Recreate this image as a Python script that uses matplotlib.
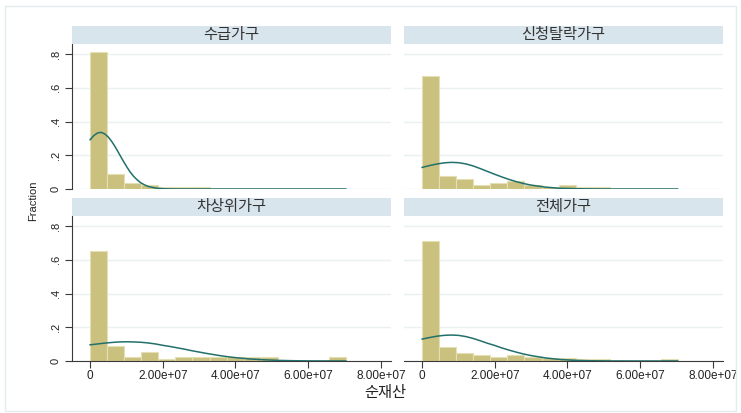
import numpy as np
import matplotlib
matplotlib.use('Agg')
import matplotlib.pyplot as plt
from matplotlib.patches import Rectangle

plt.rcParams['font.family'] = ['Liberation Sans', 'Noto Sans CJK KR', 'DejaVu Sans']

# --- data ---
groups = ['수급가구', '신청탈락가구', '차상위가구', '전체가구']
bin_width = 0.4693   # x 1e7
n_bins = 15

frac_sugup = [0.815, 0.087, 0.037, 0.025, 0.012, 0.012, 0.012, 0, 0, 0, 0, 0, 0, 0, 0]
frac_talrak = [0.670, 0.075, 0.062, 0.026, 0.035, 0.050, 0.024, 0.012, 0.024, 0.011, 0.011, 0, 0, 0, 0]
frac_chasang = [0.650, 0.089, 0.022, 0.052, 0.010, 0.022, 0.022, 0.022, 0.022, 0.022, 0.022, 0, 0, 0, 0.022]
frac_total = [0.712, 0.082, 0.045, 0.036, 0.022, 0.034, 0.024, 0.015, 0.017, 0.012, 0.012, 0, 0, 0, 0.009]

# normal overlay, x in 1e7
curve_x_sugup = [0, 0.1, 0.2, 0.3, 0.4, 0.5, 0.6, 0.7, 0.8, 0.9, 1.0, 1.1, 1.2, 1.3, 1.4, 1.5, 1.6, 1.8, 2.0, 2.2, 2.6, 7.04]
curve_y_sugup = [0.292, 0.317, 0.332, 0.336, 0.327, 0.308, 0.280, 0.246, 0.208, 0.170, 0.134, 0.101, 0.074, 0.053, 0.036, 0.024, 0.015, 0.0055, 0.0017, 0.0004, 0, 0]

curve_x_talrak = [0, 0.2, 0.4, 0.6, 0.8, 1.0, 1.2, 1.4, 1.6, 1.8, 2.0, 2.2, 2.4, 2.6, 2.8, 3.0, 3.4, 3.8, 4.4, 5.0, 7.03]
curve_y_talrak = [0.128, 0.139, 0.148, 0.155, 0.158, 0.156, 0.149, 0.137, 0.121, 0.104, 0.087, 0.071, 0.056, 0.043, 0.032, 0.023, 0.011, 0.004, 0.001, 0, 0]

curve_x_chasang = [0, 0.2, 0.4, 0.6, 0.8, 1.0, 1.2, 1.4, 1.6, 1.8, 2.0, 2.2, 2.4, 2.6, 2.8, 3.0, 3.2, 3.4, 3.6, 3.8, 4.0, 4.4, 4.8, 5.2, 5.6, 6.0, 7.04]
curve_y_chasang = [0.096, 0.101, 0.106, 0.110, 0.113, 0.114, 0.113, 0.111, 0.107, 0.101, 0.093, 0.086, 0.078, 0.070, 0.061, 0.053, 0.045, 0.038, 0.031, 0.025, 0.020, 0.012, 0.007, 0.0035, 0.0016, 0.0007, 0]

curve_x_total = [0, 0.2, 0.4, 0.6, 0.8, 1.0, 1.2, 1.4, 1.6, 1.8, 2.0, 2.2, 2.4, 2.6, 2.8, 3.0, 3.4, 3.8, 4.2, 4.6, 5.2, 7.03]
curve_y_total = [0.130, 0.139, 0.147, 0.152, 0.154, 0.152, 0.145, 0.134, 0.120, 0.105, 0.092, 0.077, 0.064, 0.052, 0.041, 0.032, 0.018, 0.009, 0.004, 0.0015, 0.0003, 0]

fracs = [frac_sugup, frac_talrak, frac_chasang, frac_total]
curves = [(curve_x_sugup, curve_y_sugup), (curve_x_talrak, curve_y_talrak),
          (curve_x_chasang, curve_y_chasang), (curve_x_total, curve_y_total)]

xticks = [0, 2e7, 4e7, 6e7, 8e7]
xticklabels = ['0', '2.00e+07', '4.00e+07', '6.00e+07', '8.00e+07']
yticks = [0, 0.2, 0.4, 0.6, 0.8]
yticklabels = ['0', '.2', '.4', '.6', '.8']

# --- figure ---
W, H = 741, 413
fig = plt.figure(figsize=(W / 100, H / 100), dpi=100)
fig.patch.set_facecolor('white')
fig.add_artist(Rectangle((5 / W, 1 - 411 / H), 731 / W, 405 / H, transform=fig.transFigure,
                         fill=False, edgecolor='#e4ecef', lw=1))

bar_col = '#cbc17e'
bar_edge = '#e4dfb4'
line_col = '#22706b'
strip_col = '#d9e5ec'
grid_col = '#e9f1f3'
axis_col = '#3a3a3a'

# pixel boxes: (left, right, strip_top, plot_top, plot_bottom)
boxes = [(72, 391, 26, 44, 189), (404, 723, 26, 44, 189),
         (72, 391, 198, 216, 361), (404, 723, 198, 216, 361)]

for i, (l, r, st, pt, pb) in enumerate(boxes):
    ax = fig.add_axes([l / W, 1 - pb / H, (r - l) / W, (pb - pt) / H])
    edges = np.arange(n_bins) * bin_width * 1e7
    ax.bar(edges, fracs[i], width=bin_width * 1e7, align='edge',
           color=bar_col, edgecolor=bar_edge, linewidth=0.8, zorder=2)
    cx, cy = curves[i]
    ax.plot(np.array(cx) * 1e7, cy, color=line_col, lw=1.1, zorder=3)

    ax.set_xlim(-0.5e7, 8.28e7)
    ax.set_ylim(0, 0.86)
    ax.set_yticks(yticks)
    ax.yaxis.grid(True, color=grid_col, lw=1.0)
    ax.set_axisbelow(True)
    for s in ['top', 'right']:
        ax.spines[s].set_visible(False)

    left_col = i in (0, 2)
    bottom_row = i in (2, 3)
    if left_col:
        ax.spines['left'].set_color(axis_col)
        ax.spines['left'].set_linewidth(0.8)
        ax.set_yticklabels(yticklabels)
        ax.tick_params(axis='y', length=5, width=0.8, color=axis_col, pad=3,
                       labelsize=8, labelrotation=90, labelcolor='#222222')
        for t in ax.get_yticklabels():
            t.set_va('center')
    else:
        ax.spines['left'].set_visible(False)
        ax.tick_params(axis='y', left=False, labelleft=False)
    if bottom_row:
        ax.spines['bottom'].set_color(axis_col)
        ax.spines['bottom'].set_linewidth(0.8)
        ax.set_xticks(xticks)
        ax.set_xticklabels(xticklabels)
        ax.tick_params(axis='x', length=5, width=0.8, color=axis_col, pad=1.5,
                       labelsize=8.5, labelcolor='#222222')
    else:
        ax.spines['bottom'].set_visible(False)
        ax.tick_params(axis='x', bottom=False, labelbottom=False)

    sax = fig.add_axes([l / W, 1 - pt / H, (r - l) / W, (pt - st) / H])
    sax.set_facecolor(strip_col)
    sax.set_xticks([])
    sax.set_yticks([])
    for s in sax.spines.values():
        s.set_visible(False)
    sax.text(0.5, 0.5, groups[i], ha='center', va='center', fontsize=11,
             color='#333333', family=['Noto Sans CJK KR', 'DejaVu Sans'],
             transform=sax.transAxes)

fig.text(33 / W, 1 - 201 / H, 'Fraction', rotation=90, ha='center', va='center',
         fontsize=8, color='#222222')
fig.text(385 / W, 1 - 393 / H, '순재산', ha='center', va='center', fontsize=11,
         color='#222222', family=['Noto Sans CJK KR', 'DejaVu Sans'])

fig.savefig('out.png', dpi=100)
